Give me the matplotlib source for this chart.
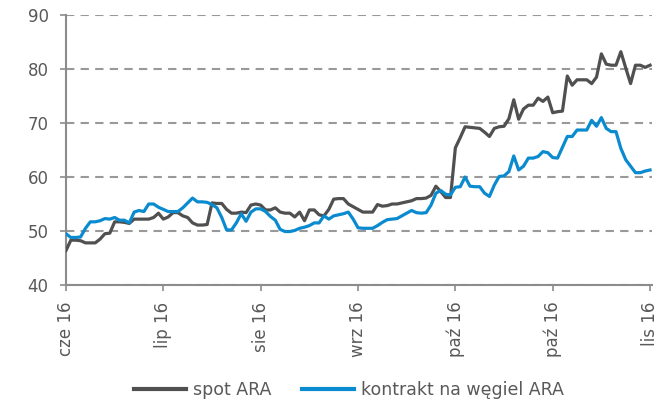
# Spot ARA vs ARA coal contract, daily, Jun-Nov 2016
import matplotlib.pyplot as plt

tick_labels = ["cze 16", "lip 16", "sie 16", "wrz 16", "paź 16", "paź 16", "lis 16"]
tick_every = 20

spot_ara = [
    46.4, 48.3, 48.3, 48.2, 47.8, 47.8, 47.8, 48.5, 49.5, 49.6,
    51.7, 51.7, 51.6, 51.4, 52.2, 52.2, 52.2, 52.2, 52.5, 53.3,
    52.2, 52.6, 53.4, 53.4, 52.8, 52.5, 51.5, 51.1, 51.1, 51.2,
    55.2, 55.1, 55.1, 54.0, 53.3, 53.3, 53.5, 53.4, 54.8, 55.0,
    54.8, 53.9, 53.9, 54.3, 53.5, 53.3, 53.3, 52.6, 53.5, 51.9,
    53.9, 53.9, 53.0, 52.8, 54.0, 55.9, 56.0, 56.0, 55.0, 54.5,
    54.0, 53.5, 53.5, 53.5, 54.9, 54.6, 54.7, 55.0, 55.0, 55.2,
    55.4, 55.6, 56.0, 56.0, 56.1, 56.6, 58.3, 57.3, 56.2, 56.2,
    65.4, 67.3, 69.3, 69.2, 69.1, 69.0, 68.3, 67.5, 69.0, 69.3,
    69.4, 70.8, 74.3, 70.7, 72.6, 73.3, 73.3, 74.6, 74.0, 74.8,
    71.9, 72.1, 72.2, 78.7, 77.0, 78.0, 78.0, 78.0, 77.3, 78.5,
    82.8, 80.9, 80.7, 80.7, 83.2, 80.2, 77.3, 80.7, 80.7, 80.3,
    80.7,
]

kontrakt_ara = [
    49.5, 48.8, 48.8, 48.9, 50.5, 51.7, 51.7, 51.9, 52.3, 52.2,
    52.5, 52.0, 52.0, 51.5, 53.5, 53.8, 53.6, 55.0, 55.0, 54.4,
    54.0, 53.6, 53.6, 53.6, 54.3, 55.2, 56.1, 55.4, 55.4, 55.3,
    54.9, 54.3, 52.5, 50.2, 50.2, 51.5, 53.2, 51.8, 53.5, 54.1,
    54.1, 53.6, 52.7, 52.0, 50.3, 49.9, 49.9, 50.1, 50.5, 50.7,
    51.0, 51.5, 51.5, 52.8, 52.2, 52.8, 53.0, 53.2, 53.5, 52.2,
    50.6, 50.5, 50.5, 50.5, 51.0, 51.6, 52.1, 52.2, 52.3, 52.8,
    53.3, 53.8, 53.4, 53.3, 53.4, 54.8, 57.0, 57.5, 56.8, 56.7,
    58.1, 58.2, 60.0, 58.3, 58.2, 58.2, 57.0, 56.4, 58.5, 60.1,
    60.2, 61.0, 63.9, 61.3, 62.0, 63.5, 63.5, 63.8, 64.7, 64.5,
    63.6, 63.5, 65.5, 67.5, 67.5, 68.7, 68.7, 68.7, 70.5, 69.4,
    71.0, 69.0, 68.4, 68.4, 65.3, 63.2, 62.0, 60.8, 60.8, 61.1,
    61.3,
]

axis_grey = "#8c8c8c"
text_grey = "#595959"

fig = plt.figure(figsize=(6.72, 4.03), dpi=100)
ax = fig.add_axes([66 / 672, 1 - 285 / 403, 586 / 672, 270 / 403])

x = range(len(spot_ara))
ax.plot(x, spot_ara, color="#505050", lw=2.3, label="spot ARA", zorder=3)
ax.plot(x, kontrakt_ara, color="#0a8bd0", lw=2.3, label="kontrakt na węgiel ARA", zorder=3)

ax.set_ylim(40, 90)
ax.set_xlim(0, len(spot_ara) - 1 + 0.4)
ax.set_yticks(range(40, 91, 10))
ax.set_xticks(range(0, len(spot_ara), tick_every))
ax.set_xticklabels(tick_labels, rotation=90)

ax.yaxis.grid(True, color="#999999", lw=1.5, dashes=(4, 3))
ax.set_axisbelow(True)

for side in ["top", "right"]:
    ax.spines[side].set_visible(False)
for side in ["left", "bottom"]:
    ax.spines[side].set_color(axis_grey)
    ax.spines[side].set_linewidth(1.5)

ax.tick_params(axis="y", length=4.5, width=1.2, color=axis_grey, pad=8,
               labelsize=12, labelcolor=text_grey)
ax.tick_params(axis="x", length=4, width=1.2, color=axis_grey, pad=8,
               labelsize=12, labelcolor=text_grey)

leg = fig.legend(loc="center", bbox_to_anchor=(349 / 672, 1 - 390 / 403), ncol=2,
                 frameon=False, fontsize=12.5, handlelength=3.0, handletextpad=0.4,
                 columnspacing=1.8, borderaxespad=0)
for t in leg.get_texts():
    t.set_color(text_grey)
for line in leg.get_lines():
    line.set_linewidth(3)

plt.savefig("out.png", dpi=100)
